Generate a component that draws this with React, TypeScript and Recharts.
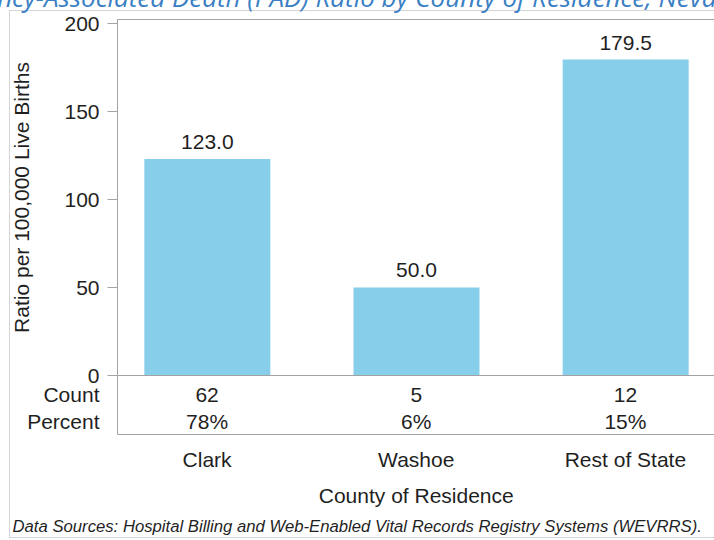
import { Bar, BarChart, LabelList, XAxis, YAxis, usePlotArea } from 'recharts';

// Pregnancy-associated death ratio per 100,000 live births, by county of residence
const COUNTIES = ['Clark', 'Washoe', 'Rest of State'];
const PAD_RATIOS = [123.0, 50.0, 179.5];
const DEATH_COUNTS = [62, 5, 12];
const DEATH_PERCENTS = [78, 6, 15];
const RATIO_TICKS = [0, 50, 100, 150, 200];

const chartData = COUNTIES.map((county, i) => ({
  county,
  ratio: PAD_RATIOS[i],
  count: DEATH_COUNTS[i],
  percent: DEATH_PERCENTS[i],
}));

const FONT = '"Liberation Sans", Arial, sans-serif';
const TEXT = '#1f1f1f';
const FRAME = '#a3a3a3';
const BAR = '#87ceeb';
const TITLE_BLUE = '#3b7fc4';

const TABLE_HEIGHT = 59;

/**
 * Count / percent / county name under each bar
 */
function TableTick({ x, y, index }: { x: number; y: number; index: number }) {
  const row = chartData[index];
  if (!row) return null;
  return (
    <g fontFamily={FONT} fontSize={21} fill={TEXT} textAnchor="middle">
      <text x={x} y={y + 26}>{row.count}</text>
      <text x={x} y={y + 53}>{row.percent}%</text>
      <text x={x} y={y + 91}>{row.county}</text>
    </g>
  );
}

/**
 * Plot border, table box and row headers
 */
function PlotFrame() {
  const area = usePlotArea();
  if (!area) return null;
  const { x, y, width, height } = area;
  const bottom = y + height;
  const tableBottom = bottom + TABLE_HEIGHT;
  return (
    <g>
      <line x1={x} x2={x + width} y1={y} y2={y} stroke={FRAME} />
      <line x1={x + width} x2={x + width} y1={y} y2={tableBottom} stroke={FRAME} />
      <line x1={x} x2={x} y1={bottom} y2={tableBottom} stroke={FRAME} />
      <line x1={x} x2={x + width} y1={tableBottom} y2={tableBottom} stroke={FRAME} />
      <g fontFamily={FONT} fontSize={21} fill={TEXT}>
        <text x={x - 18} y={bottom + 26} textAnchor="end">Count</text>
        <text x={x - 18} y={bottom + 53} textAnchor="end">Percent</text>
        <text x={x + width / 2} y={bottom + 127} textAnchor="middle">County of Residence</text>
      </g>
    </g>
  );
}

function RatioAxisLabel({ viewBox }: { viewBox?: { x: number; y: number; width: number; height: number } }) {
  if (!viewBox) return null;
  const cx = viewBox.x + 29;
  const cy = viewBox.y + viewBox.height / 2;
  return (
    <text
      transform={`translate(${cx},${cy}) rotate(-90)`}
      textAnchor="middle"
      fontFamily={FONT}
      fontSize={21}
      fill={TEXT}
    >
      Ratio per 100,000 Live Births
    </text>
  );
}

export default function App() {
  return (
    <div
      style={{
        position: 'fixed',
        left: 0,
        top: 0,
        width: 714,
        height: 540,
        overflow: 'hidden',
        background: '#fff',
      }}
    >
      {/* Page decorations: clipped title, outer border, footnote */}
      <svg width={714} height={540} style={{ position: 'absolute', left: 0, top: 0 }}>
        <rect x={9.5} y={10.5} width={760} height={527} fill="none" stroke="#d4d4d4" />
        <g fontFamily='"Open Sans", sans-serif' fontStyle="italic" fontSize={26} fill={TITLE_BLUE}>
          <text x={44} y={6.5} textAnchor="end">Pregnancy-</text>
          <text x={44} y={6.5}>Associated Death (PAD) Ratio by County of Residence, Nevada</text>
        </g>
        <text x={12.5} y={532} fontFamily={FONT} fontStyle="italic" fontSize={16.7} fill={TEXT}>
          Data Sources: Hospital Billing and Web-Enabled Vital Records Registry Systems (WEVRRS).
        </text>
      </svg>

      <div style={{ position: 'absolute', left: 0, top: 0 }}>
        <BarChart
          width={730}
          height={540}
          data={chartData}
          margin={{ top: 19.5, right: 15, bottom: 0, left: 0 }}
          barCategoryGap="20%"
        >
          <XAxis
            dataKey="county"
            height={164.5}
            interval={0}
            padding={{ left: -15, right: -15 }}
            axisLine={{ stroke: FRAME }}
            tickLine={false}
            tickSize={0}
            tickMargin={0}
            tick={(props: any) => <TableTick {...props} />}
          />
          <YAxis
            width={117.5}
            type="number"
            domain={[0, 202.27]}
            ticks={RATIO_TICKS}
            interval={0}
            tickSize={10}
            tickMargin={8}
            axisLine={{ stroke: FRAME }}
            tickLine={{ stroke: FRAME }}
            tick={{ fontSize: 21, fill: TEXT, fontFamily: FONT }}
            label={{ content: (props: any) => <RatioAxisLabel {...props} /> }}
          />
          <Bar dataKey="ratio" fill={BAR} isAnimationActive={false}>
            <LabelList
              dataKey="ratio"
              position="top"
              offset={10}
              fill={TEXT}
              fontSize={21}
              fontFamily={FONT}
              formatter={(v: any) => Number(v).toFixed(1)}
            />
          </Bar>
          <PlotFrame />
        </BarChart>
      </div>
    </div>
  );
}
